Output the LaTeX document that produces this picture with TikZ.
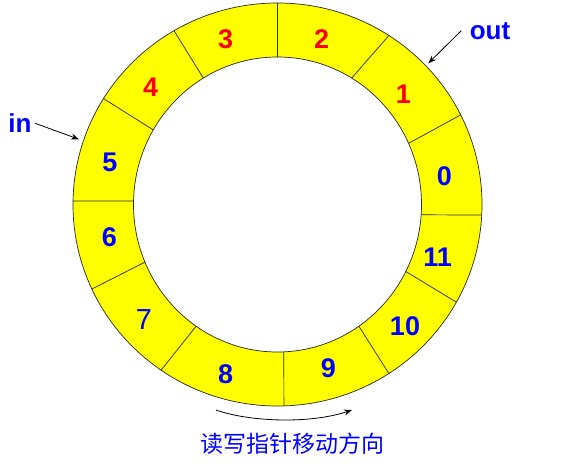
\documentclass[tikz,border=0pt]{standalone}
\usepackage{fontspec}
\setmainfont{Liberation Sans}
\newfontfamily\cjk{Noto Sans CJK SC}
\usetikzlibrary{arrows.meta}
\definecolor{ringyellow}{RGB}{255,255,0}
\tikzset{
  num/.style={font=\bfseries\fontsize{27}{27}\selectfont,inner sep=0pt},
  lab/.style={font=\bfseries\fontsize{26}{26}\selectfont,blue},
  ptr/.style={-{Stealth[length=8pt,width=6pt]},line width=0.8pt},
  rim/.style={line width=0.7pt,black!85}
}
\begin{document}
\begin{tikzpicture}[x=1pt,y=1pt]
\useasboundingbox (0,0) rectangle (575,-470);
\coordinate (c) at (277.5,-204.5);
% ring
\fill[ringyellow,even odd rule] (c) ellipse [x radius=204.5,y radius=201.5]
  (c) ellipse [x radius=144,y radius=147.5];
\draw[rim] (c) ellipse [x radius=204.5,y radius=201.5];
\draw[rim] (c) ellipse [x radius=144,y radius=147.5];
\foreach \a/\b in {90/90,59/57,24.5/26.4,-4/-3,-27/-29,-55.6/-57,-87.5/-88.2,
  -124.4/-124.7,-157/-155.2,178.6/179,149.6/148.3,121/120.4}
  \draw[rim] ([shift={(\a:144 and 147.5)}]c) -- ([shift={(\b:204.5 and 201.5)}]c);
% slot numbers
\node[num,red] (s3) at (225.7,-39.3) {3};
\node[num,red] (s2) at (321.7,-39.3) {2};
\node[num,red] (s1) at (403.3,-94.3) {1};
\node[num,red] (s4) at (150.7,-87.3) {4};
\node[num,blue] (s0) at (444.3,-176.7) {0};
\node[num,blue] (s11) at (437.7,-257.7) {11};
\node[num,blue] (s10) at (405,-326.7) {10};
\node[num,blue] (s9) at (328.3,-368.3) {9};
\node[num,blue] (s8) at (225.7,-374) {8};
\node[num,blue,font=\fontsize{29}{29}\selectfont] (s7) at (144,-319.3) {7};
\node[num,blue] (s6) at (109.3,-237.7) {6};
\node[num,blue] (s5) at (110,-162.3) {5};
% pointers
\node[lab] (inlab) at (20,-123.3) {in};
\node[lab] (outlab) at (490,-30.7) {out};
\coordinate (inend) at (79,-139.3);
\coordinate (outend) at (428.3,-63.3);
\draw[ptr] (inlab.east) -- (inend);
\draw[ptr] ([xshift=-5pt]outlab.west) -- (outend);
% direction
\coordinate (dirbeg) at (216,-410);
\coordinate (dirend) at (352,-410);
\draw[ptr] (dirbeg) .. controls (250,-422) and (310,-424) .. (dirend);
\node[font=\cjk\fontsize{23}{23}\selectfont,blue] (dirlab) at (292.5,-444) {读写指针移动方向};
\end{tikzpicture}
\end{document}
